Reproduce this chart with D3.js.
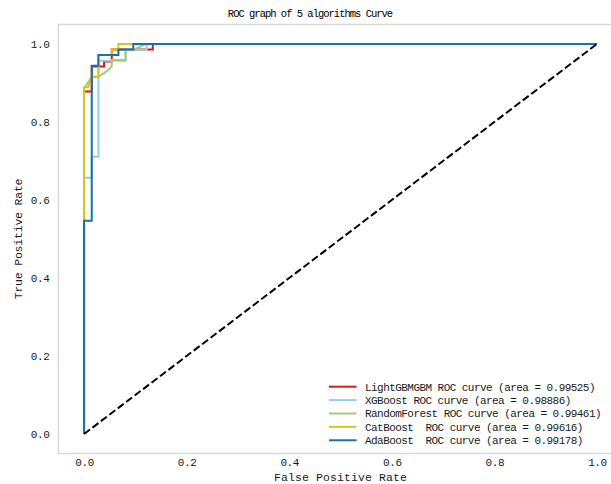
<!DOCTYPE html>
<html>
<head>
<meta charset="utf-8">
<script src="https://cdn.jsdelivr.net/npm/d3@7"></script>
<style>
  body { margin: 0; background: #fff; }
  text { font-family: "Liberation Mono", "DejaVu Sans Mono", monospace; fill: #1a1a1a; }
</style>
</head>
<body>
<div id="chart"></div>
<script>
// ROC curve points
const lgbFpr = [0, 0, 0.015, 0.015, 0.039, 0.039, 0.054, 0.054, 0.134, 0.134, 1];
const lgbTpr = [0, 0.878, 0.878, 0.942, 0.942, 0.955, 0.955, 0.986, 0.986, 1, 1];

const xgbFpr = [0, 0, 0.015, 0.015, 0.028, 0.028, 0.081, 0.081, 0.122, 0.122, 1];
const xgbTpr = [0, 0.657, 0.657, 0.711, 0.711, 0.957, 0.957, 0.985, 0.985, 1, 1];

const rfFpr = [0, 0, 0.015, 0.028, 0.043, 0.054, 0.054, 0.081, 0.081, 0.096, 0.120, 1];
const rfTpr = [0, 0.886, 0.916, 0.916, 0.929, 0.942, 0.959, 0.959, 0.985, 0.985, 1, 1];

const catFpr = [0, 0, 0.008, 0.015, 0.028, 0.028, 0.054, 0.054, 0.067, 0.067, 1];
const catTpr = [0, 0.889, 0.889, 0.916, 0.916, 0.972, 0.972, 0.986, 0.986, 1, 1];

const adaFpr = [0, 0, 0.015, 0.015, 0.028, 0.028, 0.067, 0.067, 0.096, 0.096, 1];
const adaTpr = [0, 0.547, 0.547, 0.944, 0.944, 0.972, 0.972, 0.986, 0.986, 1, 1];

const modelNames = ["LightGBMGBM", "XGBoost", "RandomForest", "CatBoost ", "AdaBoost "];
const aucValues = [0.99525, 0.98886, 0.99461, 0.99616, 0.99178];
const xTicks = [0, 0.2, 0.4, 0.6, 0.8, 1.0];
const yTicks = [0, 0.2, 0.4, 0.6, 0.8, 1.0];
const diagX = [0, 1];
const diagY = [0, 1];

const colors = ["#d7191c", "#92d0e4", "#a3c97c", "#d8c51c", "#1a72a6"];

const curves = [
    {fpr: lgbFpr, tpr: lgbTpr},
    {fpr: xgbFpr, tpr: xgbTpr},
    {fpr: rfFpr, tpr: rfTpr},
    {fpr: catFpr, tpr: catTpr},
    {fpr: adaFpr, tpr: adaTpr}
].map((c, i) => ({
    name: modelNames[i],
    auc: aucValues[i],
    color: colors[i],
    points: c.fpr.map((f, j) => [f, c.tpr[j]])
}));

const W = 611, H = 484;
const margin = {top: 24.5, right: -11.6, bottom: 30.5, left: 58.4};
const width = W - margin.left - margin.right;
const height = H - margin.top - margin.bottom;

const svg = d3.select("#chart").append("svg")
    .attr("width", W)
    .attr("height", H)
    .style("display", "block");

const g = svg.append("g")
    .attr("transform", `translate(${margin.left}, ${margin.top})`);

const x = d3.scaleLinear().domain([-0.05, 1.05]).range([0, width]);
const y = d3.scaleLinear().domain([-0.05, 1.05]).range([height, 0]);

// frame
g.append("rect")
    .attr("x", 0).attr("y", 0)
    .attr("width", width).attr("height", height)
    .attr("fill", "none")
    .attr("stroke", "#d9d9d9")
    .attr("stroke-width", 1.5);

// axes
const xAxis = d3.axisBottom(x).tickValues(xTicks).tickSize(0).tickPadding(5).tickFormat(d3.format(".1f"));
const yAxis = d3.axisLeft(y).tickValues(yTicks).tickSize(0).tickPadding(9).tickFormat(d3.format(".1f"));

g.append("g").attr("class", "x-axis")
    .attr("transform", `translate(0, ${height})`)
    .call(xAxis)
    .call(a => a.select(".domain").remove())
    .selectAll("text")
    .style("font-size", "11px").style("letter-spacing", "-0.4px").style("font-family", null);

g.append("g").attr("class", "y-axis")
    .call(yAxis)
    .call(a => a.select(".domain").remove())
    .selectAll("text")
    .style("font-size", "11px").style("letter-spacing", "-0.4px").style("font-family", null);

// curves
const line = d3.line().x(d => x(d[0])).y(d => y(d[1]));

g.selectAll(".roc")
    .data(curves)
    .enter()
    .append("path")
    .attr("class", "roc")
    .attr("d", d => line(d.points))
    .attr("fill", "none")
    .attr("stroke", d => d.color)
    .attr("stroke-width", 2);

// chance line
g.append("path")
    .attr("d", line(diagX.map((v, i) => [v, diagY[i]])))
    .attr("fill", "none")
    .attr("stroke", "#000")
    .attr("stroke-width", 2)
    .attr("stroke-dasharray", "7.4,3.2");

// legend
const legend = svg.append("g")
    .attr("transform", "translate(329, 386.7)");

const items = legend.selectAll(".item")
    .data(curves)
    .enter()
    .append("g")
    .attr("class", "item")
    .attr("transform", (d, i) => `translate(0, ${i * 13.4})`);

items.append("line")
    .attr("x1", 0).attr("x2", 27.5)
    .attr("stroke", d => d.color)
    .attr("stroke-width", 2);

items.append("text")
    .attr("x", 36)
    .attr("dy", "0.36em")
    .style("font-size", "11px")
    .style("letter-spacing", "-0.55px")
    .style("white-space", "pre")
    .text(d => `${d.name} ROC curve (area = ${d.auc.toFixed(5)})`);

// titles
svg.append("text")
    .attr("x", 310)
    .attr("y", 17)
    .attr("text-anchor", "middle")
    .style("font-size", "10.5px")
    .style("letter-spacing", "-1px")
    .style("fill", "#000")
    .text("ROC graph of 5 algorithms Curve");

svg.append("text")
    .attr("x", margin.left + x(0.5))
    .attr("y", 481)
    .attr("text-anchor", "middle")
    .style("font-size", "11.5px")
    .style("letter-spacing", "0.1px")
    .text("False Positive Rate");

svg.append("text")
    .attr("transform", `translate(22, ${margin.top + y(0.5)}) rotate(-90)`)
    .attr("text-anchor", "middle")
    .style("font-size", "11.5px")
    .style("letter-spacing", "-0.2px")
    .text("True Positive Rate");
</script>
</body>
</html>
